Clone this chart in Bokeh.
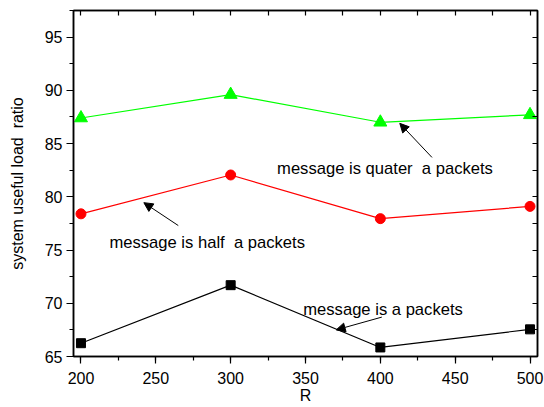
from bokeh.plotting import figure
from bokeh.models import (ColumnDataSource, LinearAxis, SingleIntervalTicker, FixedTicker,
                          Range1d, Arrow, NormalHead, Label)
from bokeh.embed import file_html
from bokeh.resources import INLINE

R = [200, 300, 400, 500]
quarter = [87.4, 89.6, 87.0, 87.7]
half = [78.4, 82.05, 77.95, 79.1]
full = [66.25, 71.7, 65.85, 67.55]

FONT = "Liberation Sans"
NB = "\u00a0"

p = figure(width=544, height=407, output_backend="svg", toolbar_location=None,
           x_range=Range1d(195, 505), y_range=Range1d(65, 97.5),
           min_border_left=73, min_border_right=7, min_border_top=10, min_border_bottom=51,
           x_axis_label="R", y_axis_label="system useful load" + NB + " ratio")
p.grid.visible = False
p.outline_line_color = "black"
p.outline_line_width = 1.5
p.background_fill_color = "white"
p.border_fill_color = "white"

p.xaxis.ticker = SingleIntervalTicker(interval=50, num_minor_ticks=2)
p.yaxis.ticker = SingleIntervalTicker(interval=5, num_minor_ticks=2)

for ax in p.xaxis + p.yaxis:
    ax.axis_line_width = 1.5
    ax.major_tick_line_width = 1.2
    ax.minor_tick_line_width = 1.2
    ax.major_tick_in = 0
    ax.minor_tick_in = 0
    ax.major_tick_out = 7
    ax.minor_tick_out = 4
    ax.major_label_text_font = FONT
    ax.major_label_text_font_size = "16px"
    ax.major_label_text_color = "black"
    ax.axis_label_text_font = FONT
    ax.axis_label_text_font_size = "16px"
    ax.axis_label_text_font_style = "normal"
    ax.axis_label_text_color = "black"

p.xaxis.major_label_standoff = 8
p.xaxis.axis_label_standoff = 0
p.yaxis.major_label_standoff = 4
p.yaxis.axis_label_standoff = 16

top = LinearAxis(ticker=FixedTicker(ticks=[], minor_ticks=list(range(200, 501, 25))),
                 major_tick_in=0, major_tick_out=0, minor_tick_in=5, minor_tick_out=0,
                 major_label_standoff=0, axis_line_width=1.5, minor_tick_line_width=1.2)
right = LinearAxis(ticker=FixedTicker(ticks=[], minor_ticks=[65 + 2.5 * i for i in range(14)]),
                   major_tick_in=0, major_tick_out=0, minor_tick_in=5, minor_tick_out=0,
                   major_label_standoff=0, axis_line_width=1.5, minor_tick_line_width=1.2)
p.add_layout(top, "above")
p.add_layout(right, "right")

src = ColumnDataSource(dict(R=R, quarter=quarter, half=half, full=full))

p.line("R", "quarter", source=src, line_color="#00ff00", line_width=1.2)
p.scatter("R", "quarter", source=src, marker="triangle", size=13,
          fill_color="#00ff00", line_color="#00ff00")
p.line("R", "half", source=src, line_color="#ff0000", line_width=1.2)
p.scatter("R", "half", source=src, marker="circle", size=10,
          fill_color="#ff0000", line_color="#ff0000")
p.line("R", "full", source=src, line_color="black", line_width=1.2)
p.scatter("R", "full", source=src, marker="square", size=9,
          fill_color="black", line_color="black")

def note(x, y, txt):
    p.add_layout(Label(x=x, y=y, text=txt, text_font=FONT, text_font_size="16.6px",
                       text_align="left", text_baseline="middle", text_color="black"))

def arrow(x0, y0, x1, y1):
    p.add_layout(Arrow(x_start=x0, y_start=y0, x_end=x1, y_end=y1, line_width=1,
                       line_color="black",
                       end=NormalHead(size=9, fill_color="black", line_color="black")))

note(331, 82.7, "message is quater" + NB + " a packets")
arrow(434.5, 83.7, 413, 86.9)
note(219, 75.7, "message is half" + NB + " a packets")
arrow(265, 77.3, 242, 79.45)
note(348.5, 69.4, "message is a packets")
arrow(401, 68.7, 370.5, 67.5)

open("out.html", "w").write(file_html(p, INLINE))
